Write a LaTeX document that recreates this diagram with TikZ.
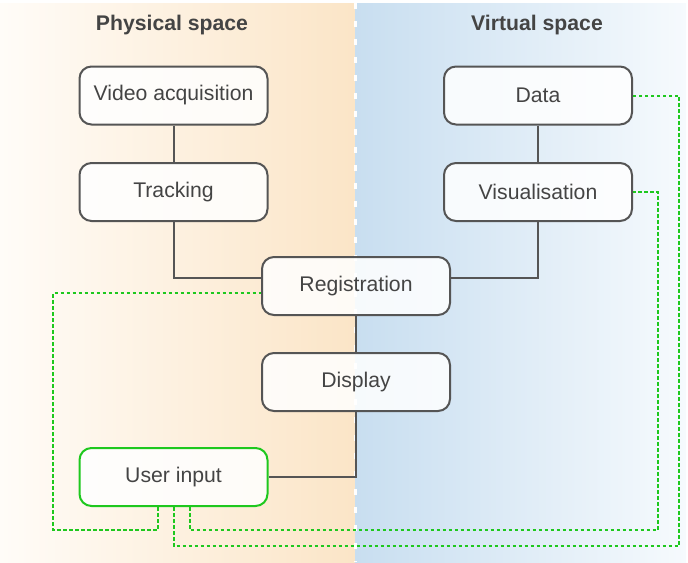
\documentclass[tikz,border=0pt]{standalone}
\usepackage{fontspec}
\setmainfont{Liberation Sans}
\usepackage{xcolor}
\usepackage{tikz}
\usetikzlibrary{shapes,positioning}
\definecolor{txt}{HTML}{444444}
\definecolor{edge}{HTML}{555555}
\definecolor{grn}{HTML}{1EC81E}
\definecolor{peach}{HTML}{FBE5C7}
\definecolor{cream}{HTML}{FFFCF8}
\definecolor{sky}{HTML}{C8DEF0}
\definecolor{pale}{HTML}{F6FAFD}
\tikzset{box/.style={rectangle,rounded corners=6pt,draw=edge,line width=1pt,fill=white,fill opacity=0.85,text opacity=1,text=txt,minimum width=94pt,minimum height=29pt,font=\fontsize{10.6}{12}\selectfont}}
\tikzset{gbox/.style={box,draw=grn}}
\tikzset{ttl/.style={text=txt,font=\fontsize{10.6}{12}\selectfont\bfseries}}
\tikzset{wire/.style={draw=edge,line width=1pt}}
\tikzset{glink/.style={draw=grn,line width=1pt,dash pattern=on 1.75pt off 1.25pt}}

\begin{document}
\begin{tikzpicture}[x=0.5pt,y=-0.5pt]
    \useasboundingbox (0,0) rectangle (688,562);
    % the two spaces
    \shade[left color=cream,right color=peach] (0,3) rectangle (355,562);
    \shade[left color=sky,right color=pale] (355,3) rectangle (686,562);
    \draw[white,line width=1.3pt,dash pattern=on 3pt off 6pt] (355.5,3) -- (355.5,562);

        \node[ttl] (p) at (172,25) {Physical space};
        \node[ttl] (v) at (537,25) {Virtual space};

        \node[box] (vid) at (173.5,95.5) {Video acquisition};
        \node[box] (trk) at (173.5,192) {Tracking};
        \node[box] (reg) at (356,286) {Registration};
        \node[box] (dsp) at (356,382) {Display};
        \node[gbox] (usr) at (173.5,477) {User input};
        \node[box] (dat) at (538,95.5) {Data};
        \node[box] (vis) at (538,192) {Visualisation};

        \coordinate (regtl) at ([yshift=4pt]reg.west);
        \coordinate (regtr) at ([yshift=4pt]reg.east);
        \coordinate (regbl) at ([yshift=-3.5pt]reg.west);

        \draw [wire] (vid) to [] (trk);
        \draw [wire] (trk) |- (regtl);
        \draw [wire] (dat) to [] (vis);
        \draw [wire] (vis) |- (regtr);
        \draw [wire] (reg) to [] (dsp);
        \draw [wire] (dsp) |- (usr);

        % user input feedback
        \draw [glink] ([xshift=-8pt]usr.south) |- (53,530) |- (regbl);
        \draw [glink] (usr.south) |- (679,546) |- (dat.east);
        \draw [glink] ([xshift=8pt]usr.south) |- (658,530) |- (vis.east);
    \end{tikzpicture}
\end{document}
